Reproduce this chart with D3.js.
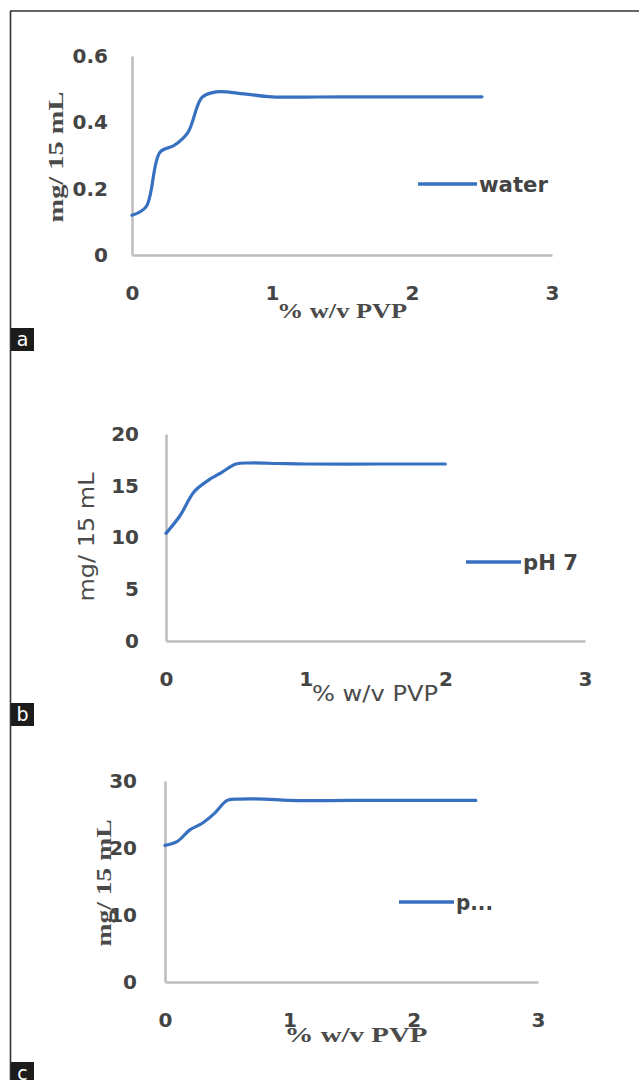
<!DOCTYPE html>
<html>
<head>
<meta charset="utf-8">
<script src="https://cdn.jsdelivr.net/npm/d3@7"></script>
<style>
  html, body { margin: 0; padding: 0; background: #fff; }
  svg { display: block; }
</style>
</head>
<body>
<svg id="chart" width="639" height="1080"></svg>
<script>
// ---- data ----
const xTicks = [0, 1, 2, 3];

const waterX = [0, 0.1, 0.2, 0.3, 0.4, 0.5, 0.6, 0.8, 1.0, 1.5, 2.0, 2.5];
const waterY = [0.12, 0.145, 0.31, 0.33, 0.37, 0.475, 0.492, 0.486, 0.477, 0.477, 0.477, 0.477];
const waterTicks = [0, 0.2, 0.4, 0.6];

const ph7X = [0, 0.1, 0.2, 0.3, 0.4, 0.5, 0.6, 0.8, 1.0, 1.5, 2.0];
const ph7Y = [10.4, 12.1, 14.4, 15.5, 16.3, 17.1, 17.2, 17.15, 17.1, 17.1, 17.1];
const ph7Ticks = [0, 5, 10, 15, 20];

const pX = [0, 0.1, 0.2, 0.3, 0.4, 0.5, 0.6, 0.8, 1.0, 1.5, 2.0, 2.5];
const pY = [20.4, 21.0, 22.7, 23.7, 25.2, 27.1, 27.3, 27.3, 27.1, 27.1, 27.1, 27.1];
const pTicks = [0, 10, 20, 30];

const seriesNames = ["water", "pH 7", "p..."];
const panelLetters = ["a", "b", "c"];
const yTitle = "mg/ 15 mL";
const xTitle = "% w/v PVP";

// ---- layout ----
const svg = d3.select("#chart");
const BLUE = "#3770c0";
const AXIS = "#bcbcbc";
const TXT = "#444";
const SANS = "DejaVu Sans, sans-serif";
const SERIF = "Liberation Serif, Times New Roman, serif";

// frame
svg.append("line").attr("x1", 10).attr("x2", 639).attr("y1", 11).attr("y2", 11)
  .attr("stroke", "#333").attr("stroke-width", 1.6);
svg.append("line").attr("x1", 10.5).attr("x2", 10.5).attr("y1", 11).attr("y2", 1080)
  .attr("stroke", "#333").attr("stroke-width", 1.6);

const panels = [
  { xs: waterX, ys: waterY, ticks: waterTicks, yMax: 0.6, fmt: d => d === 0 ? "0" : d3.format(".1f")(d),
    xr: [132, 552], yr: [255, 56], ypad: 24, name: seriesNames[0],
    leg: [418, 477, 184], legW: 69, titleFont: SERIF, titleW: 131, xTitleC: [342, 311], yTitleC: [56, 157],
    xTitleW: 130, box: 328, letter: panelLetters[0] },
  { xs: ph7X, ys: ph7Y, ticks: ph7Ticks, yMax: 20, fmt: d3.format("d"),
    xr: [166, 585], yr: [641, 434], ypad: 27, name: seriesNames[1],
    leg: [466, 521, 562], legW: 55, titleFont: SANS, titleW: 129, xTitleC: [375, 694], yTitleC: [87, 537],
    xTitleW: 126, box: 703, letter: panelLetters[1] },
  { xs: pX, ys: pY, ticks: pTicks, yMax: 30, fmt: d3.format("d"),
    xr: [165, 538], yr: [982, 781], ypad: 28, name: seriesNames[2],
    leg: [399, 454, 902], legW: 37, titleFont: SERIF, titleW: 127, xTitleC: [356, 1035], yTitleC: [104, 883],
    xTitleW: 143, box: 1062, letter: panelLetters[2] }
];

panels.forEach(p => {
  const g = svg.append("g");
  const x = d3.scaleLinear().domain([0, 3]).range(p.xr);
  const y = d3.scaleLinear().domain([0, p.yMax]).range(p.yr);

  // y axis
  const ya = g.append("g").attr("transform", `translate(${p.xr[0]},0)`)
    .call(d3.axisLeft(y).tickValues(p.ticks).tickFormat(p.fmt).tickSize(0).tickSizeOuter(0).tickPadding(p.ypad));
  ya.select(".domain").attr("stroke", AXIS).attr("stroke-width", 2.5);
  ya.selectAll("text").attr("font-family", SANS).attr("font-weight", "bold")
    .attr("font-size", 20).attr("fill", TXT);

  // x axis
  const xa = g.append("g").attr("transform", `translate(0,${p.yr[0]})`)
    .call(d3.axisBottom(x).tickValues(xTicks).tickFormat(d3.format("d")).tickSize(0).tickSizeOuter(0).tickPadding(31));
  xa.select(".domain").attr("stroke", AXIS).attr("stroke-width", 2.5);
  xa.selectAll("text").attr("font-family", SANS).attr("font-weight", "bold")
    .attr("font-size", 20).attr("fill", TXT);

  // line
  const pts = p.xs.map((v, i) => [v, p.ys[i]]);
  g.append("path").datum(pts)
    .attr("fill", "none").attr("stroke", BLUE).attr("stroke-width", 3.2)
    .attr("stroke-linecap", "round").attr("stroke-linejoin", "round")
    .attr("d", d3.line().x(d => x(d[0])).y(d => y(d[1])).curve(d3.curveCatmullRom.alpha(0.5)));

  // legend
  g.append("line").attr("x1", p.leg[0]).attr("x2", p.leg[1]).attr("y1", p.leg[2]).attr("y2", p.leg[2])
    .attr("stroke", BLUE).attr("stroke-width", 3.5);
  g.append("text").attr("x", p.leg[1] + 2).attr("y", p.leg[2]).attr("dy", "0.36em")
    .attr("font-family", SANS).attr("font-weight", "bold").attr("font-size", 21).attr("fill", TXT)
    .attr("textLength", p.legW).attr("lengthAdjust", "spacingAndGlyphs")
    .text(p.name);

  // axis titles
  g.append("text")
    .attr("transform", `translate(${p.yTitleC[0]},${p.yTitleC[1]}) rotate(-90)`)
    .attr("text-anchor", "middle").attr("dy", "0.33em")
    .attr("font-family", p.titleFont).attr("font-weight", p.titleFont === SERIF ? "bold" : "normal")
    .attr("font-size", 22).attr("fill", "#4a4a4a")
    .attr("textLength", p.titleW).attr("lengthAdjust", "spacingAndGlyphs")
    .text(yTitle);
  g.append("text")
    .attr("x", p.xTitleC[0]).attr("y", p.xTitleC[1]).attr("dy", "0.33em")
    .attr("text-anchor", "middle")
    .attr("font-family", p.titleFont).attr("font-weight", p.titleFont === SERIF ? "bold" : "normal")
    .attr("font-size", 22).attr("fill", "#4a4a4a")
    .attr("textLength", p.xTitleW).attr("lengthAdjust", "spacingAndGlyphs")
    .text(xTitle);

  // panel letter box
  svg.append("rect").attr("x", 11).attr("y", p.box).attr("width", 23).attr("height", 23).attr("fill", "#1c1c1c");
  svg.append("text").attr("x", 22.5).attr("y", p.box + 11.5).attr("dy", "0.36em").attr("text-anchor", "middle")
    .attr("font-family", SANS).attr("font-size", 19).attr("fill", "#fff").text(p.letter);
});
</script>
</body>
</html>
